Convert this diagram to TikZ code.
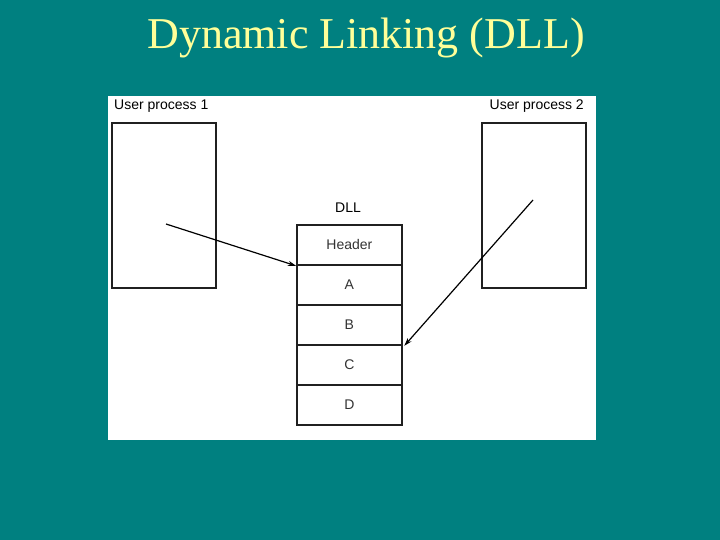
\documentclass[tikz,border=0pt]{standalone}
\usepackage{fontspec}
\setmainfont{Liberation Serif}
\setsansfont{Liberation Sans}
\usetikzlibrary{arrows.meta}
\definecolor{teal}{HTML}{008080}
\definecolor{titleyellow}{HTML}{FFFF99}
\definecolor{boxline}{HTML}{202020}
\begin{document}
\begin{tikzpicture}[x=1pt,y=-1pt,
  lbl/.style={font=\sffamily\fontsize{14}{16}\selectfont, text=black, inner sep=0pt},
  procbox/.style={draw=boxline, line width=1.8pt, minimum width=104pt, minimum height=165pt, inner sep=0pt, anchor=north west},
  dllrow/.style={draw=boxline, line width=1.8pt, minimum width=105pt, minimum height=40pt, inner sep=0pt, anchor=north west, font=\sffamily\fontsize{14}{16}\selectfont, text=black!80},
  link/.style={draw=black, line width=1.2pt, -{Stealth[length=8pt,width=5pt]}}
]
\fill[teal] (0,0) rectangle (720,540);
\useasboundingbox (0,0) rectangle (720,540);
\node[text=titleyellow, font=\fontsize{44}{50}\selectfont, inner sep=0pt] (title) at (366,38) {Dynamic Linking (DLL)};
\fill[white] (108,96) rectangle (596,440);
\node[procbox] (p1) at (111,122) {};
\node[procbox] (p2) at (481,122) {};
\node[lbl, anchor=west] (l1) at (114,106) {User process 1};
\node[lbl, anchor=east] (l2) at (584,106) {User process 2};
\node[lbl] (dlllbl) at (348,208) {DLL};
\node[dllrow] (hdr) at (296,224) {Header};
\node[dllrow] (ra) at (296,264) {A};
\node[dllrow] (rb) at (296,304) {B};
\node[dllrow] (rc) at (296,344) {C};
\node[dllrow] (rd) at (296,384) {D};
\coordinate (s1) at (166,224);
\coordinate (s2) at (533,200);
\draw[link] (s1) -- (hdr.south west);
\draw[link] (s2) -- ([xshift=1.5pt]rb.south east);
\end{tikzpicture}
\end{document}
